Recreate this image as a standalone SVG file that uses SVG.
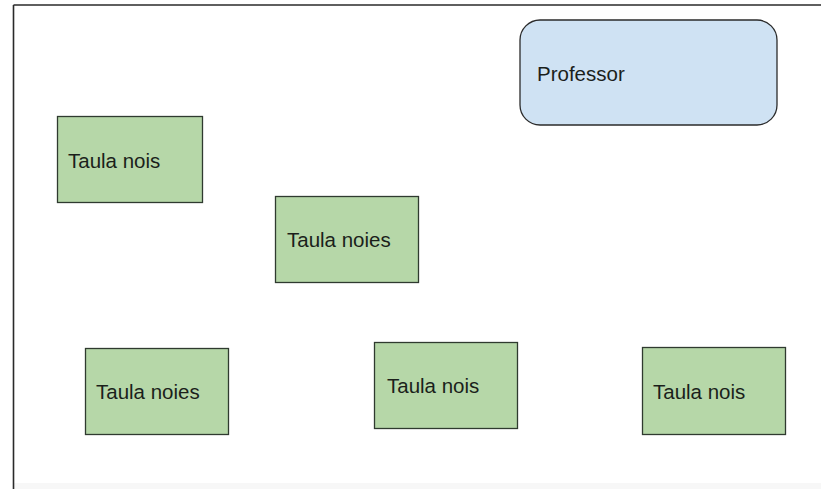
<svg xmlns="http://www.w3.org/2000/svg" width="821" height="489" viewBox="0 0 821 489">
<style>
.g{fill:#b6d7a8;stroke:#2f3a2f;stroke-width:1.3}
.b{fill:#cfe2f3;stroke:#2b2b2b;stroke-width:1.3}
.t{font-family:"Liberation Sans",Arial,sans-serif;font-size:20.5px;fill:#1b1f1b}
.frame{stroke:#2a2a2a;stroke-width:1.6;fill:none}
</style>
<rect x="0" y="0" width="821" height="489" fill="#ffffff"/>
<rect x="14" y="483" width="807" height="6" fill="#f7f7f7"/>
<g id="frame">
<line class="frame" x1="13.5" y1="5" x2="821" y2="5"/>
<line class="frame" x1="13.5" y1="5" x2="13.5" y2="489"/>
</g>
<g id="connectors"></g>
<g id="professor">
<rect class="b" x="520" y="20" width="257" height="105" rx="20" ry="20"/>
<text class="t" x="537" y="81">Professor</text>
</g>
<g id="taula1">
<rect class="g" x="57.5" y="116.5" width="145" height="86"/>
<text class="t" x="68" y="168">Taula nois</text>
</g>
<g id="taula2">
<rect class="g" x="275.5" y="196.5" width="143" height="86"/>
<text class="t" x="287" y="247">Taula noies</text>
</g>
<g id="taula3">
<rect class="g" x="85.5" y="348.5" width="143" height="86"/>
<text class="t" x="96" y="399">Taula noies</text>
</g>
<g id="taula4">
<rect class="g" x="374.5" y="342.5" width="143" height="86"/>
<text class="t" x="387" y="393">Taula nois</text>
</g>
<g id="taula5">
<rect class="g" x="642.5" y="347.5" width="143" height="87"/>
<text class="t" x="653" y="399">Taula nois</text>
</g>
</svg>
